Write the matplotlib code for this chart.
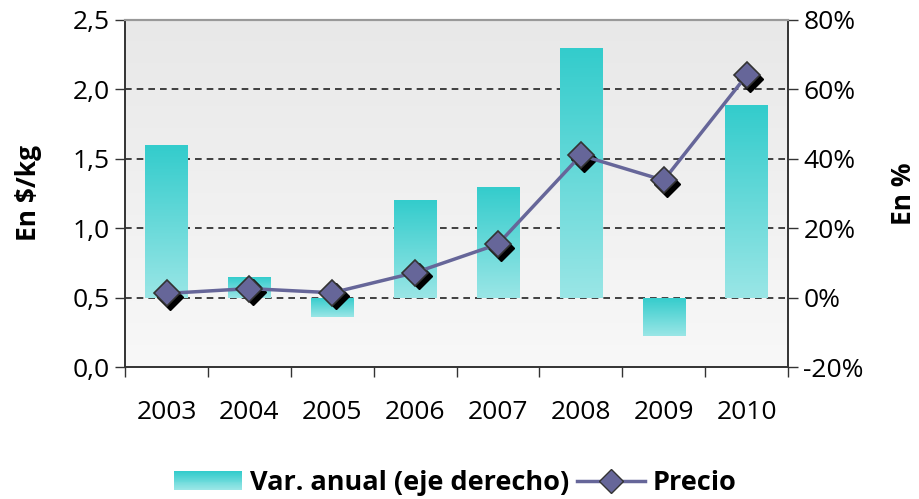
import matplotlib.pyplot as plt
import numpy as np
from matplotlib.transforms import offset_copy
from matplotlib.patches import Rectangle
from matplotlib.colors import LinearSegmentedColormap
from matplotlib.lines import Line2D
from matplotlib.legend_handler import HandlerBase

plt.rcParams['font.family'] = ['Open Sans', 'DejaVu Sans']

years = ['2003', '2004', '2005', '2006', '2007', '2008', '2009', '2010']
var_anual = [44, 6, -5.5, 28, 32, 72, -11, 55.5]          # % (eje derecho)
precio = [0.53, 0.565, 0.535, 0.68, 0.885, 1.525, 1.345, 2.10]  # $/kg

left_ticks = [0.0, 0.5, 1.0, 1.5, 2.0, 2.5]
left_labels = ['0,0', '0,5', '1,0', '1,5', '2,0', '2,5']
right_ticks = [-20, 0, 20, 40, 60, 80]
right_labels = ['-20%', '0%', '20%', '40%', '60%', '80%']

barcm = LinearSegmentedColormap.from_list('bar', ['#9ae6e6', '#33cccc'])


class GradientHandler(HandlerBase):
    # caja de leyenda con degradado vertical, en franjas
    def create_artists(self, legend, orig_handle, xdescent, ydescent,
                       width, height, fontsize, trans):
        k = 20
        arts = []
        for i in range(k):
            r = Rectangle((-xdescent, -ydescent + height * i / k), width,
                          height / k + 0.3, facecolor=barcm(i / (k - 1)),
                          edgecolor='none', transform=trans)
            arts.append(r)
        return arts


fig = plt.figure(figsize=(9.2, 4.99), dpi=100)
ax = fig.add_axes([0.136, 0.2645, 0.7205, 0.6955])
ax2 = ax.twinx()

x = np.arange(len(years))
n = len(years)

# fondo con degradado
bg = LinearSegmentedColormap.from_list('bg', ['#f8f8f8', '#e8e8e8'])
ax.imshow(np.linspace(0, 1, 256).reshape(-1, 1), cmap=bg, aspect='auto',
          extent=(-0.5, n - 0.5, 0, 2.5), origin='lower', zorder=0)
ax.set_xlim(-0.5, n - 0.5)
ax.set_ylim(0, 2.5)

# lineas de grilla punteadas
for t in left_ticks[1:-1]:
    ax.axhline(t, color='#222222', lw=1.2, ls=(0, (4, 3)), zorder=1)

# barras (eje derecho) con degradado vertical
grad = np.linspace(0, 1, 256).reshape(-1, 1)
w = 0.51
for xi, v in zip(x, var_anual):
    lo, hi = min(0, v), max(0, v)
    im = ax2.imshow(grad, cmap=barcm, aspect='auto', origin='lower',
                    extent=(xi - w / 2, xi + w / 2, lo, hi), zorder=2)
    im.set_clip_path(Rectangle((xi - w / 2, lo), w, hi - lo, transform=ax2.transData))
ax2.set_xlim(-0.5, n - 0.5)
ax2.set_ylim(-20, 80)
ax2.patch.set_visible(False)

# precio en $/kg llevado a la escala derecha: 0,5 -> 0%, 2,5 -> 80%
precio_r = [(p - 0.5) * 40 for p in precio]
shadow = offset_copy(ax2.transData, fig=fig, x=2.5, y=-2.5, units='points')
ax2.plot(x, precio_r, ls='none', marker='D', ms=13, color='black',
         transform=shadow, zorder=4)
ax2.plot(x, precio_r, color='#666699', lw=2.5, zorder=5)
ax2.plot(x, precio_r, ls='none', marker='D', ms=13, mfc='#666699',
         mec='#333333', mew=1.2, zorder=6)

# ejes
fs = 19
ax.set_yticks(left_ticks)
ax.set_yticklabels(left_labels, fontsize=fs)
ax2.set_yticks(right_ticks)
ax2.set_yticklabels(right_labels, fontsize=fs)
ax.set_xticks(x)
ax.set_xticklabels(years, fontsize=fs)
ax.set_xticks(np.arange(-0.5, n), minor=True)
ax.tick_params(axis='x', which='major', length=0, pad=24)
ax.tick_params(axis='x', which='minor', length=7, width=1, color='#333333')
ax.tick_params(axis='y', length=7, width=1, color='#333333', pad=4)
ax2.tick_params(axis='y', length=7, width=1, color='#333333', pad=4)

for a in (ax, ax2):
    a.spines['top'].set_color('#999999')
    a.spines['top'].set_linewidth(1.5)
    for s in ('left', 'right', 'bottom'):
        a.spines[s].set_color('#333333')
        a.spines[s].set_linewidth(1.2)

ax.set_ylabel('En $/kg', fontsize=fs, fontweight='bold', labelpad=22)
ax2.set_ylabel('En %', fontsize=fs, fontweight='bold', rotation=90, labelpad=19)

# leyenda
h_bar = Rectangle((0, 0), 1, 1, facecolor='#66d9d9', edgecolor='none')
h_line = Line2D([], [], color='#666699', lw=2.5, marker='D', ms=12,
                mfc='#666699', mec='#333333')
fig.legend([h_bar, h_line], ['Var. anual (eje derecho)', 'Precio'],
           handler_map={Rectangle: GradientHandler()},
           loc='center', bbox_to_anchor=(0.495, 0.032), ncol=2, frameon=False,
           prop={'size': 19.5, 'weight': 'bold'}, handlelength=2.5,
           columnspacing=0.3, handletextpad=0.3, borderpad=0)

fig.savefig('out.png', dpi=100)
